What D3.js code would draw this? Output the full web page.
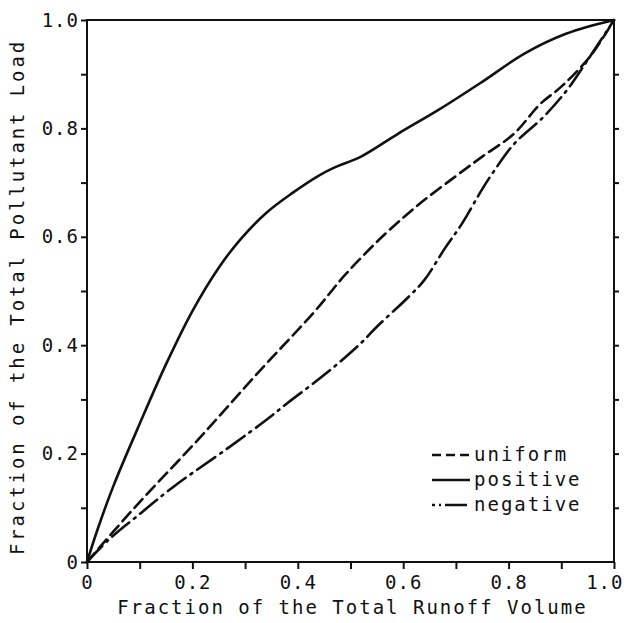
<!DOCTYPE html>
<html>
<head>
<meta charset="utf-8">
<script src="https://cdn.jsdelivr.net/npm/d3@7"></script>
<style>
  html, body { margin: 0; padding: 0; background: #fff; }
  svg { display: block; }
  text { font-family: "DejaVu Sans Mono", "Liberation Mono", monospace; fill: #111; }
</style>
</head>
<body>
<svg id="chart" width="624" height="623"></svg>
<script>
// ---- data ----
const positiveX = [0, 0.02, 0.05, 0.10, 0.15, 0.20, 0.25, 0.29, 0.34, 0.39, 0.44, 0.47, 0.52, 0.59, 0.67, 0.75, 0.83, 0.91, 1.0];
const positiveY = [0, 0.06, 0.14, 0.255, 0.365, 0.463, 0.543, 0.594, 0.644, 0.681, 0.713, 0.728, 0.748, 0.790, 0.836, 0.886, 0.938, 0.975, 1.0];

const uniformX = [0, 0.09, 0.21, 0.33, 0.43, 0.49, 0.56, 0.63, 0.70, 0.75, 0.81, 0.86, 0.90, 0.954, 1.0];
const uniformY = [0, 0.10, 0.225, 0.355, 0.46, 0.53, 0.60, 0.66, 0.712, 0.748, 0.79, 0.845, 0.877, 0.932, 1.0];

const negativeX = [0, 0.04, 0.093, 0.163, 0.27, 0.34, 0.38, 0.455, 0.52, 0.55, 0.61, 0.64, 0.68, 0.71, 0.75, 0.77, 0.81, 0.866, 0.911, 0.941, 1.0];
const negativeY = [0, 0.04, 0.083, 0.138, 0.212, 0.262, 0.293, 0.349, 0.404, 0.434, 0.489, 0.52, 0.58, 0.622, 0.688, 0.718, 0.771, 0.821, 0.871, 0.913, 1.0];

const majorTicks = [0, 0.2, 0.4, 0.6, 0.8, 1.0];
const tickLabels = ["0", "0.2", "0.4", "0.6", "0.8", "1.0"];
const minorTicks = [0.1, 0.3, 0.5, 0.7, 0.9];

const seriesNames = ["uniform", "positive", "negative"];
const xTitle = "Fraction of the Total Runoff Volume";
const yTitle = "Fraction of the Total Pollutant Load";

// ---- layout ----
const svg = d3.select("#chart");
const mLeft = 87, mRight = 614, mTop = 20, mBottom = 562;
const x = d3.scaleLinear().domain([0, 1]).range([mLeft, mRight]);
const y = d3.scaleLinear().domain([0, 1]).range([mBottom, mTop]);

const allTicks = majorTicks.concat(minorTicks);
const fmt = d => { const i = majorTicks.findIndex(m => Math.abs(m - d) < 1e-9); return i >= 0 ? tickLabels[i] : ""; };

// frame
svg.append("rect")
  .attr("x", mLeft).attr("y", mTop)
  .attr("width", mRight - mLeft).attr("height", mBottom - mTop)
  .attr("fill", "none").attr("stroke", "#111").attr("stroke-width", 2);

// bottom axis
const gx = svg.append("g").attr("transform", `translate(0,${mBottom})`)
  .call(d3.axisBottom(x).tickValues(allTicks).tickSize(7).tickSizeOuter(0).tickFormat(fmt));
gx.select(".domain").remove();
gx.selectAll("line").attr("stroke", "#111").attr("stroke-width", 2);
gx.selectAll("text").attr("font-size", 19).attr("dy", "0.95em").attr("y", 9)
  .style("font-family", "'DejaVu Sans Mono', monospace").attr("letter-spacing", 1).attr("fill", "#111");
// last label sits left of its tick, as in the reference
gx.selectAll(".tick").filter(d => d === 1.0).select("text")
  .attr("text-anchor", "end").attr("x", 9);

// left axis
const gy = svg.append("g").attr("transform", `translate(${mLeft},0)`)
  .call(d3.axisLeft(y).tickValues(allTicks).tickSize(6).tickSizeOuter(0).tickFormat(fmt));
gy.select(".domain").remove();
gy.selectAll("line").attr("stroke", "#111").attr("stroke-width", 2);
gy.selectAll("text").attr("font-size", 19).attr("x", -8)
  .style("font-family", "'DejaVu Sans Mono', monospace").attr("letter-spacing", 1).attr("fill", "#111");

// right axis ticks
const gr = svg.append("g").attr("transform", `translate(${mRight},0)`)
  .call(d3.axisRight(y).tickValues(minorTicks.concat([0.2, 0.4, 0.6, 0.8])).tickSize(5).tickFormat(""));
gr.select(".domain").remove();
gr.selectAll("line").attr("stroke", "#111").attr("stroke-width", 2);

// titles
svg.append("text")
  .attr("x", (mLeft + mRight) / 2 + 2).attr("y", 614)
  .attr("text-anchor", "middle").attr("font-size", 19).attr("letter-spacing", 2)
  .text(xTitle);
svg.append("text")
  .attr("transform", `translate(24,${(mTop + mBottom) / 2 + 6}) rotate(-90)`)
  .attr("text-anchor", "middle").attr("font-size", 19).attr("letter-spacing", 2.9)
  .text(yTitle);

// lines
const line = d3.line().x(d => x(d[0])).y(d => y(d[1])).curve(d3.curveCatmullRom.alpha(0.5));
const toPts = (xs, ys) => xs.map((v, i) => [v, ys[i]]);
const styles = { uniform: "12,6", positive: null, negative: "22,6,2,6" };
const data = {
  uniform: toPts(uniformX, uniformY),
  positive: toPts(positiveX, positiveY),
  negative: toPts(negativeX, negativeY)
};
seriesNames.forEach(n => {
  const p = svg.append("path").datum(data[n])
    .attr("d", line).attr("fill", "none").attr("stroke", "#111")
    .attr("stroke-width", 2.6).attr("stroke-linecap", "round");
  if (styles[n]) p.attr("stroke-dasharray", styles[n]);
});

// legend
const legendY = [455, 480, 505];
const legendDash = ["9,5", null, "3,4,2,4,22"];
seriesNames.forEach((n, i) => {
  const l = svg.append("line")
    .attr("x1", 432).attr("x2", 470).attr("y1", legendY[i]).attr("y2", legendY[i])
    .attr("stroke", "#111").attr("stroke-width", 2.4);
  if (legendDash[i]) l.attr("stroke-dasharray", legendDash[i]);
  svg.append("text").attr("x", 474).attr("y", legendY[i]).attr("dy", "0.3em")
    .attr("font-size", 19).attr("letter-spacing", 2).text(n);
});
</script>
</body>
</html>
